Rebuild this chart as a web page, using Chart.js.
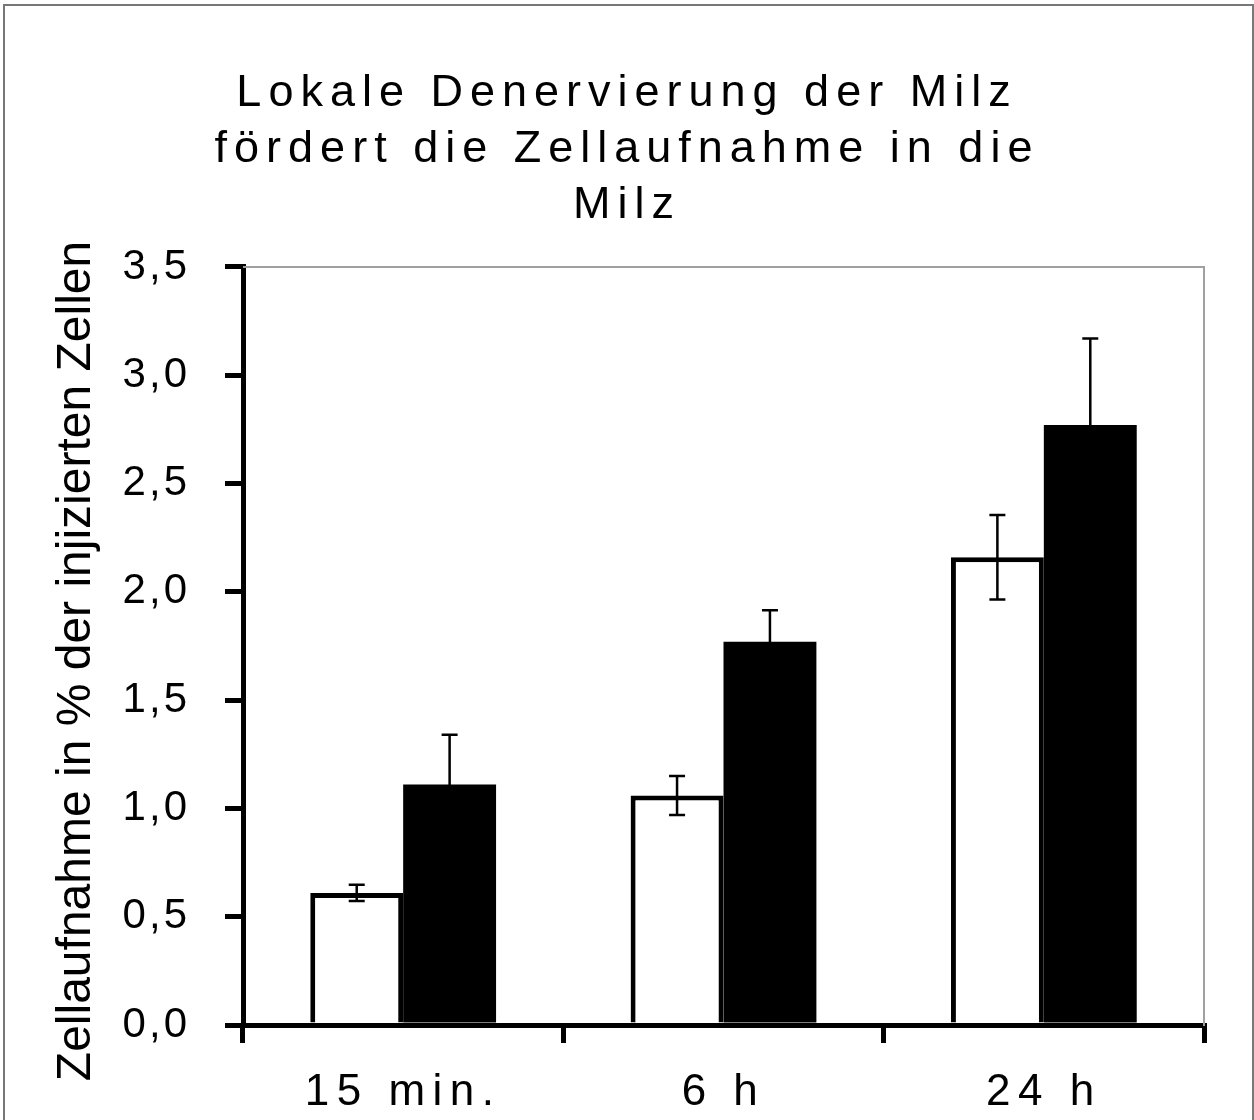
<!DOCTYPE html>
<html>
<head>
<meta charset="utf-8">
<script src="https://cdn.jsdelivr.net/npm/chart.js@4.4.1/dist/chart.umd.min.js"></script>
<style>
html,body{margin:0;padding:0;background:#fff;}
canvas{display:block;}
</style>
</head>
<body>
<canvas id="c" width="1254" height="1120"></canvas>
<script>
// ---- data ----
const titleLines = ['Lokale Denervierung der Milz', 'fördert die Zellaufnahme in die', 'Milz'];
const yAxisTitle = 'Zellaufnahme in % der injizierten Zellen';
const categories = ['15 min.', '6 h', '24 h'];
const controlValues = [0.61, 1.06, 2.16];
const controlErrors = [0.037, 0.09, 0.195];
const denervValues = [1.11, 1.77, 2.77];
const denervErrors = [0.23, 0.145, 0.40];
const yMin = 0, yMax = 3.5, yStep = 0.5;

// ---- styling ----
const FONT = '"Liberation Sans", Arial, Helvetica, sans-serif';
const TITLE_SPACING = '7px';
const LABEL_SPACING = { x: '7.5px', y: '3px' };
const TITLE_SHIFT = { y: 15 };

class SpacedLinear extends Chart.LinearScale {
  drawLabels(area) {
    const c = this.ctx, prev = c.letterSpacing;
    c.letterSpacing = LABEL_SPACING[this.id] || '0px';
    super.drawLabels(area);
    c.letterSpacing = prev;
  }
  drawTitle() {
    const c = this.ctx, prev = c.letterSpacing;
    c.save();
    c.letterSpacing = '0px';
    c.translate(0, TITLE_SHIFT[this.id] || 0);
    super.drawTitle();
    c.restore();
    c.letterSpacing = prev;
  }
}
SpacedLinear.id = 'spacedLinear';
SpacedLinear.defaults = Chart.LinearScale.defaults;

class SpacedCategory extends Chart.CategoryScale {
  drawLabels(area) {
    const c = this.ctx, prev = c.letterSpacing;
    c.letterSpacing = LABEL_SPACING[this.id] || '0px';
    super.drawLabels(area);
    c.letterSpacing = prev;
  }
}
SpacedCategory.id = 'spacedCategory';
SpacedCategory.defaults = Chart.CategoryScale.defaults;

Chart.register(SpacedLinear, SpacedCategory);

const errorSets = [controlErrors, denervErrors];
const valueSets = [controlValues, denervValues];

const framePlugin = {
  id: 'frame',
  beforeDraw(chart) {
    const c = chart.ctx;
    c.save();
    c.fillStyle = '#fff';
    c.fillRect(0, 0, chart.width, chart.height);
    c.strokeStyle = '#777';
    c.lineWidth = 2;
    c.strokeRect(4, 5, 1249, 1140);
    c.restore();
    c.letterSpacing = TITLE_SPACING;
  },
  beforeDatasetsDraw(chart) {
    const { ctx, chartArea: a } = chart;
    ctx.save();
    ctx.strokeStyle = '#a0a0a0';
    ctx.lineWidth = 2;
    ctx.beginPath();
    ctx.moveTo(a.left, a.top);
    ctx.lineTo(a.right, a.top);
    ctx.stroke();
    ctx.restore();
  },
  afterDatasetsDraw(chart) {
    const ctx = chart.ctx;
    const ys = chart.scales.y;
    ctx.save();
    ctx.strokeStyle = '#000';
    ctx.lineWidth = 2.5;
    valueSets.forEach((vals, di) => {
      const meta = chart.getDatasetMeta(di);
      meta.data.forEach((el, j) => {
        const x = el.x;
        const yt = ys.getPixelForValue(vals[j] + errorSets[di][j]);
        const yb = ys.getPixelForValue(vals[j] - errorSets[di][j]);
        ctx.beginPath();
        ctx.moveTo(x, yt); ctx.lineTo(x, yb);
        ctx.moveTo(x - 8, yt); ctx.lineTo(x + 8, yt);
        ctx.moveTo(x - 8, yb); ctx.lineTo(x + 8, yb);
        ctx.stroke();
      });
    });
    ctx.restore();
  },
  afterDraw(chart) {
    chart.ctx.letterSpacing = '0px';
  }
};

new Chart(document.getElementById('c'), {
  type: 'bar',
  data: {
    labels: categories,
    datasets: [
      {
        label: 'Kontrolle',
        data: controlValues,
        backgroundColor: '#ffffff',
        borderColor: '#000000',
        borderWidth: 5,
        borderSkipped: 'start',
        categoryPercentage: 0.58,
        barPercentage: 1.0
      },
      {
        label: 'Denervierung',
        data: denervValues,
        backgroundColor: '#000000',
        borderWidth: 0,
        categoryPercentage: 0.58,
        barPercentage: 1.0
      }
    ]
  },
  options: {
    responsive: false,
    animation: false,
    events: [],
    layout: { padding: 0 },
    plugins: {
      legend: { display: false },
      tooltip: { enabled: false },
      title: {
        display: true,
        text: titleLines,
        color: '#000',
        font: { family: FONT, size: 45, weight: 'normal', lineHeight: 1.244 },
        padding: { top: 66, bottom: 33 }
      }
    },
    scales: {
      x: {
        type: 'spacedCategory',
        offset: true,
        grid: {
          display: true,
          offset: true,
          drawOnChartArea: false,
          drawTicks: true,
          tickLength: 18,
          lineWidth: 5,
          tickWidth: 5,
          color: '#000',
          tickColor: '#000'
        },
        border: { display: true, color: '#000', width: 5 },
        ticks: {
          color: '#000',
          padding: 23,
          font: { family: FONT, size: 44 },
          maxRotation: 0,
          autoSkip: false
        },
        afterFit(s) { s.height = 95; }
      },
      y: {
        type: 'spacedLinear',
        position: 'left',
        min: yMin,
        max: yMax,
        grid: {
          display: true,
          drawOnChartArea: false,
          drawTicks: true,
          tickLength: 18,
          lineWidth: 5,
          tickWidth: 5,
          color: '#000',
          tickColor: '#000'
        },
        border: { display: true, color: '#000', width: 5 },
        ticks: {
          stepSize: yStep,
          color: '#000',
          padding: 35,
          font: { family: FONT, size: 42 },
          callback: v => v.toFixed(1).replace('.', ',')
        },
        title: {
          display: true,
          text: yAxisTitle,
          color: '#000',
          font: { family: FONT, size: 48 },
          padding: { top: 48, bottom: 0 }
        },
        afterFit(s) { s.width = 243; }
      },
      yRight: {
        type: 'linear',
        position: 'right',
        min: yMin,
        max: yMax,
        grid: { display: false },
        ticks: { display: false },
        border: { display: true, color: '#a0a0a0', width: 2 },
        afterFit(s) { s.width = 50; }
      }
    }
  },
  plugins: [framePlugin]
});
</script>
</body>
</html>
